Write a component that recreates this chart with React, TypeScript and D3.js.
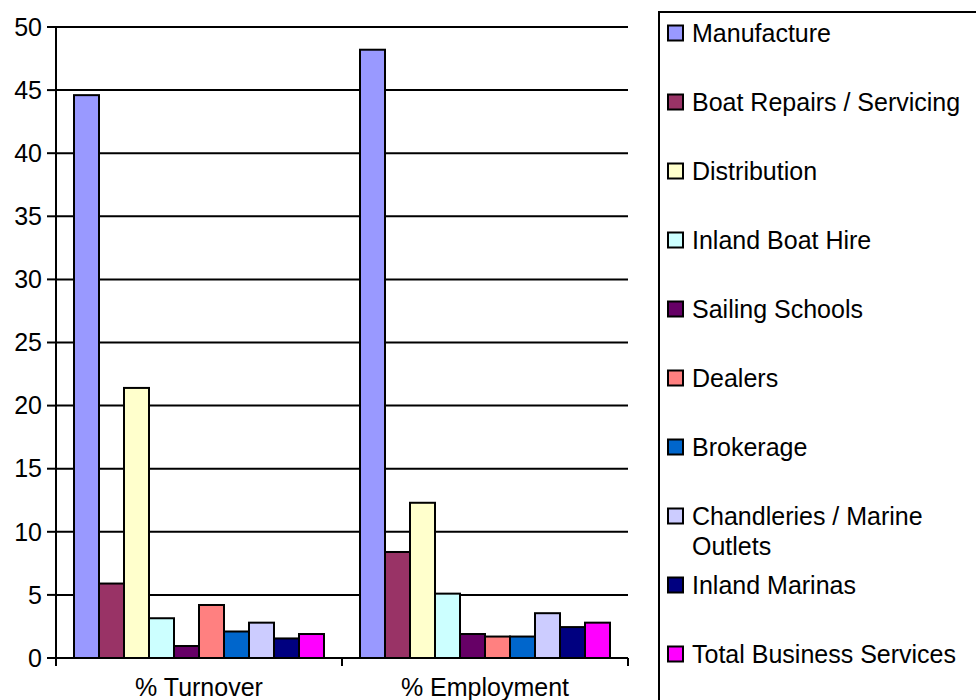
import React from "react";
import * as d3 from "d3";

const categories = ["% Turnover", "% Employment"];
const seriesNames = [
  "Manufacture",
  "Boat Repairs / Servicing",
  "Distribution",
  "Inland Boat Hire",
  "Sailing Schools",
  "Dealers",
  "Brokerage",
  "Chandleries / Marine Outlets",
  "Inland Marinas",
  "Total Business Services",
];
const seriesColors = [
  "#9999FF", "#993366", "#FFFFCC", "#CCFFFF", "#660066",
  "#FF8080", "#0066CC", "#CCCCFF", "#000080", "#FF00FF",
];
const turnoverValues = [44.6, 5.9, 21.4, 3.15, 0.95, 4.2, 2.1, 2.8, 1.55, 1.9];
const employmentValues = [48.2, 8.4, 12.3, 5.1, 1.9, 1.7, 1.7, 3.55, 2.45, 2.8];
const yTicks = [0, 5, 10, 15, 20, 25, 30, 35, 40, 45, 50];
const legendLines: string[][] = [
  ["Manufacture"],
  ["Boat Repairs / Servicing"],
  ["Distribution"],
  ["Inland Boat Hire"],
  ["Sailing Schools"],
  ["Dealers"],
  ["Brokerage"],
  ["Chandleries / Marine", "Outlets"],
  ["Inland Marinas"],
  ["Total Business Services"],
];

const W = 976, H = 700;
const FONT = "'Liberation Sans', Arial, sans-serif";

export default function App() {
  const left = 56, right = 628, top = 27, bottom = 658;
  const y = d3.scaleLinear().domain([0, 50]).range([bottom, top]);
  const x0 = d3.scaleBand<string>().domain(categories).range([left, right]).paddingInner(0).paddingOuter(0);
  const x1 = d3.scaleBand<string>().domain(seriesNames).range([0, x0.bandwidth()]).paddingInner(0).paddingOuter(0.72);
  const data = [turnoverValues, employmentValues];

  const legendX = 659, legendTop = 12;
  const rowY = (i: number) => 33 + i * 69.0;

  return (
    <svg width={W} height={H} style={{ position: "absolute", left: 0, top: 0, background: "#fff" }}
      fontFamily={FONT}>
      <rect x={0} y={0} width={W} height={H} fill="#fff" />
      {/* gridlines */}
      {yTicks.filter(t => t > 0).map(t => (
        <line key={"g" + t} x1={left} x2={right} y1={y(t)} y2={y(t)} stroke="#000" strokeWidth={2} />
      ))}
      {/* y ticks & labels */}
      {yTicks.map(t => (
        <g key={"t" + t}>
          <line x1={left - 9} x2={left} y1={y(t)} y2={y(t)} stroke="#000" strokeWidth={2} />
          <text x={42} y={y(t)} dy="0.35em" textAnchor="end" fontSize={25} fill="#000">{t}</text>
        </g>
      ))}
      {/* bars */}
      {categories.map((c, ci) => (
        <g key={c} transform={`translate(${x0(c)},0)`}>
          {seriesNames.map((s, si) => (
            <rect key={s} x={x1(s)!} y={y(data[ci][si])} width={x1.bandwidth()}
              height={y(0) - y(data[ci][si])} fill={seriesColors[si]} stroke="#000" strokeWidth={2} />
          ))}
        </g>
      ))}
      {/* axes */}
      <line x1={left} x2={left} y1={top} y2={bottom} stroke="#000" strokeWidth={2} />
      <line x1={left} x2={right} y1={bottom} y2={bottom} stroke="#000" strokeWidth={2} />
      {[...categories.map(c => x0(c)!), right].map((xv, i) => (
        <line key={"xt" + i} x1={xv} x2={xv} y1={bottom} y2={bottom + 8} stroke="#000" strokeWidth={2} />
      ))}
      {categories.map(c => (
        <text key={"xl" + c} x={x0(c)! + x0.bandwidth() / 2} y={687} dy="0.35em" textAnchor="middle"
          fontSize={25} fill="#000">{c}</text>
      ))}
      {/* legend */}
      <rect x={legendX} y={legendTop} width={W} height={H} fill="none" stroke="#000" strokeWidth={2} />
      {seriesNames.map((s, i) => (
        <g key={"lg" + s}>
          <rect x={668} y={rowY(i) - 7.5} width={15} height={15} fill={seriesColors[i]} stroke="#000" strokeWidth={2} />
          {legendLines[i].map((ln, li) => (
            <text key={li} x={692} y={rowY(i) + li * 30} dy="0.35em" fontSize={25} fill="#000">{ln}</text>
          ))}
        </g>
      ))}
    </svg>
  );
}
